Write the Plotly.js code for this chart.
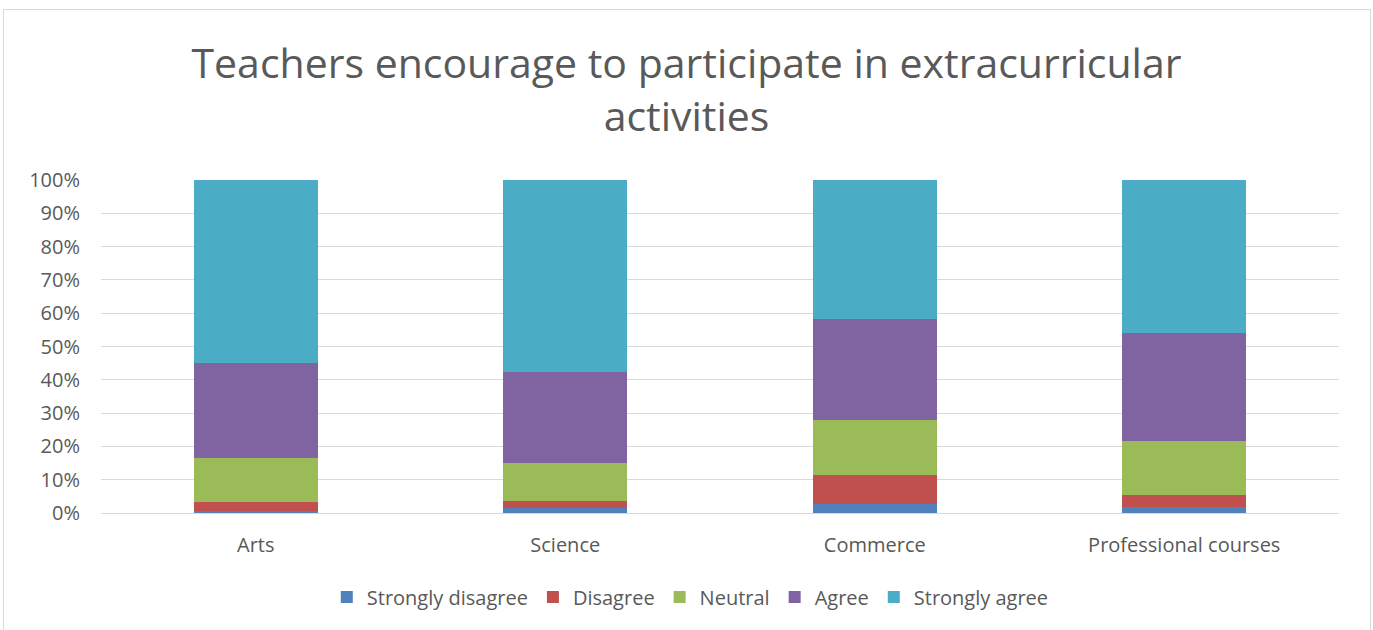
<!DOCTYPE html>
<html><head><meta charset="utf-8">
<script src="https://cdn.plot.ly/plotly-3.0.1.min.js"></script>
<style>
html,body{margin:0;padding:0;background:#fff;}
#frame{position:absolute;left:3px;top:9px;width:1366px;height:640px;border:1px solid #d9d9d9;}
#chart{position:absolute;left:0;top:0;width:1373px;height:630px;}
</style></head>
<body><div id="frame"></div><div id="chart"></div>
<script>
const categories = ["Arts", "Science", "Commerce", "Professional courses"];
const stronglyDisagree = [0.7, 1.4, 2.7, 1.9];
const disagree = [2.6, 2.3, 8.7, 3.5];
const neutral = [13.2, 11.3, 16.4, 16.2];
const agree = [28.5, 27.3, 30.6, 32.4];
const stronglyAgree = [55.0, 57.7, 41.6, 46.0];
const yTicks = [0,10,20,30,40,50,60,70,80,90,100];
const yTickLabels = yTicks.map(v => v + "%");

const series = [
  {name:"Strongly disagree", y:stronglyDisagree, color:"#4f81bd"},
  {name:"Disagree", y:disagree, color:"#c0504d"},
  {name:"Neutral", y:neutral, color:"#9bbb59"},
  {name:"Agree", y:agree, color:"#8064a2"},
  {name:"Strongly agree", y:stronglyAgree, color:"#4bacc6"}
];
const font = "Open Sans, DejaVu Sans, sans-serif";
const traces = series.map(s => ({
  type:"bar", x:categories, y:s.y, name:s.name,
  marker:{color:s.color, line:{width:0}}, hoverinfo:"skip"
}));
const layout = {
  width:1373, height:630, paper_bgcolor:"rgba(0,0,0,0)", plot_bgcolor:"rgba(0,0,0,0)",
  barmode:"stack", barnorm:"percent", bargap:0.6,
  margin:{l:101, r:34, t:180, b:117},
  title:{text:"Teachers encourage to participate in extracurricular<br>activities",
    font:{family:font, size:41, color:"#595959"}, x:0.5, xanchor:"center",
    y:0.876, yref:"container", yanchor:"middle"},
  xaxis:{tickfont:{family:font, size:20, color:"#595959"}, showline:true, linecolor:"#d9d9d9", linewidth:1, ticks:"", ticklabelstandoff:14},
  yaxis:{range:[0,100], tickvals:yTicks, ticktext:yTickLabels, tickfont:{family:font, size:20, color:"#595959"},
    gridcolor:"#d9d9d9", gridwidth:1, zeroline:false, ticks:"", ticklabelstandoff:20},
  legend:{orientation:"h", x:0.476, xanchor:"center", y:-0.252, yanchor:"middle",
    font:{family:font, size:20, color:"#595959"}, traceorder:"normal", itemwidth:30},
  showlegend:true
};
Plotly.newPlot("chart", traces, layout, {displayModeBar:false, staticPlot:true});
</script></body></html>
